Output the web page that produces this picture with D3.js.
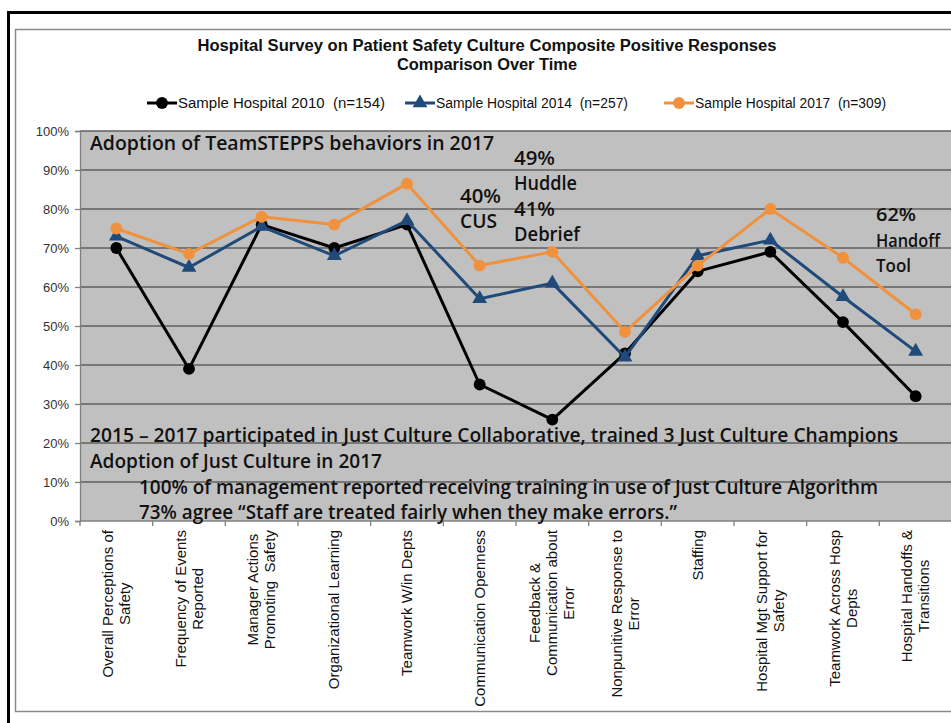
<!DOCTYPE html>
<html>
<head>
<meta charset="utf-8">
<script src="https://cdn.jsdelivr.net/npm/d3@7/dist/d3.min.js"></script>
<style>
  body { margin: 0; background: #fff; }
  svg { display: block; }
</style>
</head>
<body>
<svg id="chart" width="951" height="723"></svg>
<script>
// Survey composites (x categories), each label split into display lines
const categoryLabels = [
  ["Overall Perceptions of", "Safety"],
  ["Frequency of Events", "Reported"],
  ["Manager Actions", "Promoting  Safety"],
  ["Organizational Learning"],
  ["Teamwork W/in Depts"],
  ["Communication Openness"],
  ["Feedback &", "Communication about", "Error"],
  ["Nonpunitive Response to", "Error"],
  ["Staffing"],
  ["Hospital Mgt Support for", "Safety"],
  ["Teamwork Across Hosp", "Depts"],
  ["Hospital Handoffs &", "Transitions"]
];

// Percent positive responses per composite
const hospital2010 = [70, 39, 76, 70, 76, 35, 26, 43, 64, 69, 51, 32];
const hospital2014 = [73, 65, 75.5, 68, 77, 57, 61, 42, 68, 72, 57.5, 43.5];
const hospital2017 = [75, 68.5, 78, 76, 86.5, 65.5, 69, 48.5, 65.5, 80, 67.5, 53];

const seriesNames = [
  "Sample Hospital 2010  (n=154)",
  "Sample Hospital 2014  (n=257)",
  "Sample Hospital 2017  (n=309)"
];

const yTicks = [0, 10, 20, 30, 40, 50, 60, 70, 80, 90, 100];

const titleLines = [
  "Hospital Survey on Patient Safety Culture Composite Positive Responses",
  "Comparison Over Time"
];

// Callout notes
const teamNotes = ["Adoption of TeamSTEPPS behaviors in 2017"];
const cusNotes = ["40%", "CUS"];
const huddleNotes = ["49%", "Huddle", "41%", "Debrief"];
const handoffNotes = ["62%", "Handoff", "Tool"];
const cultureNotes = [
  "2015 \u2013 2017 participated in Just Culture Collaborative, trained 3 Just Culture Champions",
  "Adoption of Just Culture in 2017"
];
const cultureDetailNotes = [
  "100% of management reported receiving training in use of Just Culture Algorithm",
  "73% agree \u201cStaff are treated fairly when they make errors.\u201d"
];

const svg = d3.select("#chart");

// Frames
svg.append("rect").attr("x", 8.5).attr("y", 12.5).attr("width", 980).attr("height", 760)
  .attr("fill", "#fff").attr("stroke", "#000").attr("stroke-width", 3);
svg.append("rect").attr("x", 15.5).attr("y", 29.5).attr("width", 980).attr("height", 682)
  .attr("fill", "#fff").attr("stroke", "#8a8a8a").attr("stroke-width", 1.5);

const plot = { left: 80, right: 952, top: 131, bottom: 521 };

const x = d3.scaleBand().domain(d3.range(categoryLabels.length))
  .range([plot.left, plot.right]).paddingInner(0).paddingOuter(0);
const y = d3.scaleLinear().domain([0, 100]).range([plot.bottom, plot.top]);
const cx = i => x(i) + x.bandwidth() / 2;

// Plot background
svg.append("rect").attr("x", plot.left).attr("y", plot.top)
  .attr("width", plot.right - plot.left).attr("height", plot.bottom - plot.top)
  .attr("fill", "#c0c0c0");

// Gridlines
svg.append("g").selectAll("line").data(yTicks.filter(t => t > 0)).join("line")
  .attr("x1", plot.left).attr("x2", plot.right)
  .attr("y1", d => y(d)).attr("y2", d => y(d))
  .attr("stroke", "#5f5f5f").attr("stroke-width", 1.4);

// Y axis
const yAxis = svg.append("g").attr("transform", `translate(${plot.left},0)`)
  .call(d3.axisLeft(y).tickValues(yTicks).tickSize(5).tickPadding(6).tickFormat(d => d + "%"));
yAxis.select(".domain").attr("stroke", "#808080").attr("stroke-width", 1.3);
yAxis.selectAll(".tick line").attr("stroke", "#808080").attr("stroke-width", 1.3);
yAxis.selectAll("text").attr("font-family", "Liberation Sans, Arial, sans-serif")
  .attr("font-size", 13).attr("fill", "#333");

// X axis
const xEdges = d3.range(categoryLabels.length + 1).map(i => plot.left + i * x.step());
const xAxis = svg.append("g");
xAxis.append("line").attr("x1", plot.left).attr("x2", plot.right)
  .attr("y1", plot.bottom).attr("y2", plot.bottom)
  .attr("stroke", "#808080").attr("stroke-width", 1.3);
xAxis.selectAll("line.tk").data(xEdges).join("line").attr("class", "tk")
  .attr("x1", d => d).attr("x2", d => d)
  .attr("y1", plot.bottom).attr("y2", plot.bottom + 5)
  .attr("stroke", "#808080").attr("stroke-width", 1.3);

// Rotated multi-line category labels, lines centered on each other
const lineGap = 17;
const labelGroups = xAxis.selectAll("g.lbl").data(categoryLabels).join("g").attr("class", "lbl")
  .attr("transform", (d, i) => `translate(${cx(i)},${plot.bottom + 9}) rotate(-90)`);
labelGroups.each(function (lines) {
  const g = d3.select(this);
  const texts = g.selectAll("text").data(lines).join("text")
    .attr("font-family", "Liberation Sans, Arial, sans-serif")
    .attr("font-size", 15).attr("fill", "#111")
    .attr("text-anchor", "middle")
    .style("white-space", "pre")
    .attr("y", (d, k) => (k - (lines.length - 1) / 2) * lineGap + 5)
    .text(d => d);
  const maxW = d3.max(texts.nodes(), n => n.getComputedTextLength());
  texts.attr("x", -maxW / 2);
});

// Series
const series = [
  { name: seriesNames[0], values: hospital2010, color: "#000000", marker: "circle" },
  { name: seriesNames[1], values: hospital2014, color: "#1f4a7a", marker: "triangle" },
  { name: seriesNames[2], values: hospital2017, color: "#f0913e", marker: "circle" }
];
const line = d3.line().x((d, i) => cx(i)).y(d => y(d));
const circleSym = d3.symbol().type(d3.symbolCircle).size(110);
const triSym = d3.symbol().type(d3.symbolTriangle).size(95);

series.forEach(s => {
  const g = svg.append("g");
  g.append("path").datum(s.values).attr("d", line)
    .attr("fill", "none").attr("stroke", s.color).attr("stroke-width", 3)
    .attr("stroke-linejoin", "round");
  g.selectAll("path.pt").data(s.values).join("path").attr("class", "pt")
    .attr("transform", (d, i) => `translate(${cx(i)},${y(d)})`)
    .attr("d", s.marker === "circle" ? circleSym() : triSym())
    .attr("fill", s.color);
});

// Fit a text line to a given rendered width
function fit(sel, widthOf) {
  sel.each(function (d, i) {
    const w = widthOf(d, i);
    if (w) d3.select(this).attr("textLength", w).attr("lengthAdjust", "spacingAndGlyphs");
  });
}

// Title
const titleWidths = [579, 180];
svg.append("g").selectAll("text").data(titleLines).join("text")
  .attr("x", 487).attr("y", (d, i) => 51 + i * 19)
  .attr("text-anchor", "middle")
  .attr("font-family", "Liberation Sans, Arial, sans-serif")
  .attr("font-weight", "bold").attr("font-size", 16).attr("fill", "#111")
  .text(d => d)
  .call(fit, (d, i) => titleWidths[i]);

// Legend
const legendX = [147, 405, 664];
const legendWidths = [207, 192, 191];
const legend = svg.append("g").selectAll("g").data(series).join("g")
  .attr("transform", (d, i) => `translate(${legendX[i]},103)`);
legend.append("line").attr("x1", 0).attr("x2", 30).attr("y1", 0).attr("y2", 0)
  .attr("stroke", d => d.color).attr("stroke-width", 3);
legend.append("path").attr("transform", "translate(15,0)")
  .attr("d", d => d.marker === "circle" ? circleSym() : triSym())
  .attr("fill", d => d.color);
legend.append("text").attr("x", 31).attr("y", 5)
  .attr("font-family", "Liberation Sans, Arial, sans-serif")
  .attr("font-size", 14).attr("fill", "#111")
  .style("white-space", "pre")
  .text(d => d.name)
  .call(fit, (d, i) => legendWidths[i]);

// Callouts
function notes(lines, x0, y0, gap, widths, size) {
  svg.append("g").selectAll("text").data(lines).join("text")
    .attr("x", x0).attr("y", (d, i) => y0 + i * gap)
    .attr("font-family", "Open Sans, sans-serif")
    .attr("font-weight", 600).attr("font-size", size || 19.5).attr("fill", "#111")
    .text(d => d)
    .call(fit, (d, i) => widths[i]);
}
notes(teamNotes, 90, 150, 25, [404]);
notes(cusNotes, 460, 203, 25, [41, 37]);
notes(huddleNotes, 514, 165, 25.3, [41, 63, 41, 66]);
notes(handoffNotes, 876, 221, 25.5, [40, 64, 35], 18.5);
notes(cultureNotes, 90, 442, 25.5, [808, 292]);
notes(cultureDetailNotes, 139, 494, 24.5, [739, 538]);
</script>
</body>
</html>
